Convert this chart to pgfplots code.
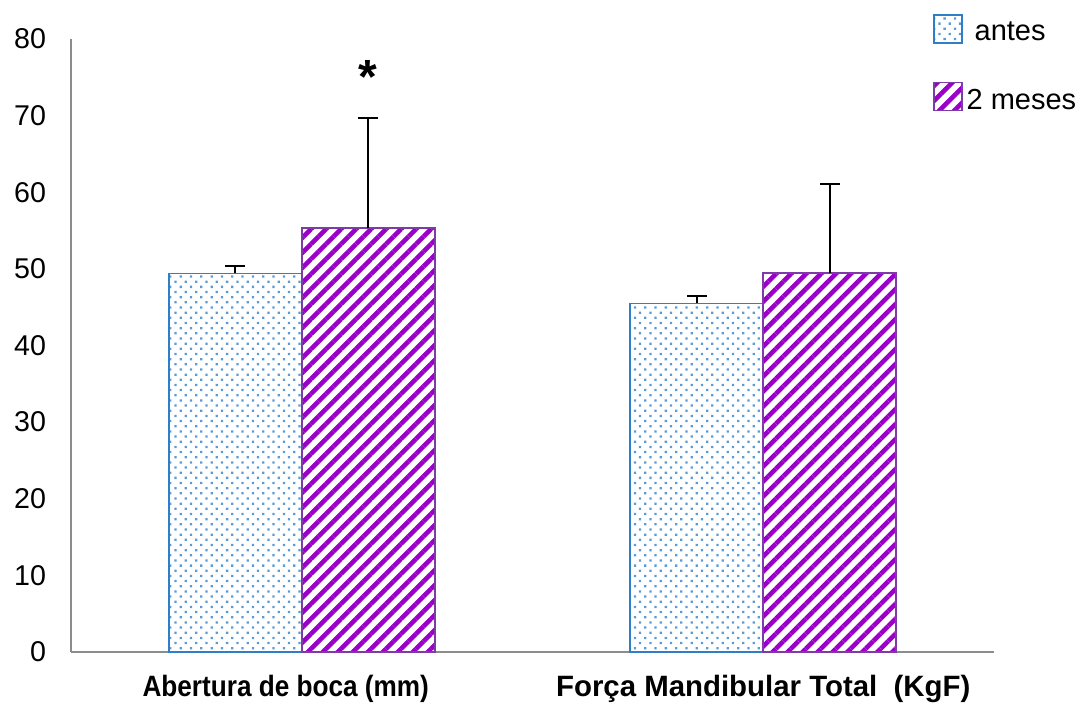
\documentclass[border=0pt]{standalone}
\usepackage{fontspec}
\setmainfont{Liberation Sans}
\usepackage{graphicx}
\usepackage{pgfplots}
\pgfplotsset{compat=1.18}
\usetikzlibrary{patterns.meta}
\definecolor{dotblue}{HTML}{5B9BD5}
\definecolor{edgeblue}{HTML}{2E7FC8}
\definecolor{stripe}{HTML}{9B00C8}
\definecolor{edgepurple}{HTML}{7E3AA8}
\definecolor{axgray}{HTML}{8C8C8C}
\begin{document}
\begin{tikzpicture}
\begin{axis}[
  at={(0,0)}, anchor=south west,
  scale only axis,
  width=461.5pt, height=306.5pt,
  xmin=-0.5, xmax=1.5,
  ymin=0, ymax=80,
  ytick={0,10,...,80},
  xtick={0,1},
  xticklabels={{\hspace*{-16pt}\scalebox{0.89}[1]{Abertura de boca (mm)}}, {For\c{c}a Mandibular Total\ \ (KgF)}},
  axis lines*=left,
  axis line style={axgray, line width=0.8pt},
  major tick length=0pt,
  tick style={draw=none},
  /pgf/number format/assume math mode=true,
  yticklabel style={font=\fontsize{14.3}{16}\selectfont, xshift=-9pt},
  xticklabel style={font=\fontsize{14.7}{16}\selectfont\bfseries, anchor=base, yshift=-22.5pt},
  ybar=0pt,
  bar width=66.5pt,
  legend style={at={(0.927,1.048)}, anchor=north west, draw=none, fill=none,
    font=\fontsize{14.5}{16}\selectfont, row sep=17pt,
    legend cell align=left},
  legend image code/.code={\draw[#1] (0pt,-5pt) rectangle (14pt,9pt);},
  clip=false,
]
\addplot[draw=edgeblue, line width=0.8pt,
  pattern={Dots[angle=45, distance=3.65pt, radius=0.8pt]}, pattern color=dotblue,
  error bars/.cd, y dir=plus, y explicit,
  error bar style={black, line width=1pt},
  error mark options={rotate=90, mark size=5pt, black, line width=1pt}]
  coordinates {(0,49.4) +- (0,1.0) (1,45.5) +- (0,0.95)};
\addlegendentry{\ antes}
\addplot[draw=edgepurple, line width=0.8pt,
  pattern={Lines[angle=45, distance=5.3pt, line width=2.3pt]}, pattern color=stripe,
  error bars/.cd, y dir=plus, y explicit,
  error bar style={black, line width=1pt},
  error mark options={rotate=90, mark size=5pt, black, line width=1pt}]
  coordinates {(0,55.3) +- (0,14.4) (1,49.45) +- (0,11.6)};
\addlegendentry{2 meses}
\node[font=\fontsize{24}{26}\selectfont\bfseries] at (axis cs:0.144,75) {*};
\end{axis}
\pgfresetboundingbox
\path (-35.5pt,-26.5pt) rectangle (505.5pt,326pt);
\end{tikzpicture}
\end{document}
